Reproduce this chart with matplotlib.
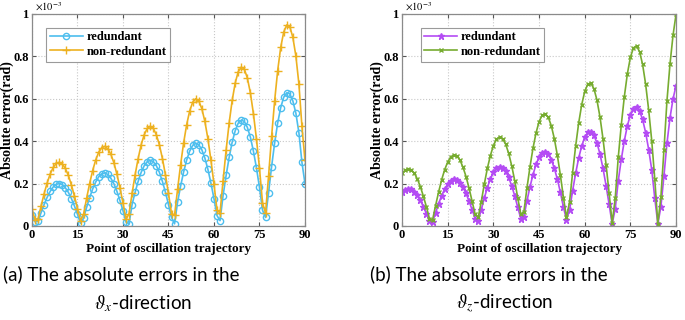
#Plot of absolute errors along the oscillation trajectory (redundant vs non-redundant)
import numpy as np
import matplotlib
matplotlib.use("Agg")
import matplotlib.pyplot as plt

plt.rcParams['mathtext.fontset'] = 'stix'

#points of the trajectory
points = np.arange(0, 91)

#theta_x direction, values in 1e-3 rad
x_redundant = [0.052, 0.020, 0.021, 0.063, 0.101, 0.135, 0.163, 0.184, 0.196, 0.200,
               0.195, 0.180, 0.158, 0.129, 0.094, 0.055, 0.012, 0.036, 0.087, 0.133,
               0.174, 0.207, 0.232, 0.246, 0.250, 0.243, 0.225, 0.199, 0.163, 0.120,
               0.072, 0.018, 0.010, 0.101, 0.159, 0.210, 0.253, 0.284, 0.303, 0.310,
               0.303, 0.284, 0.253, 0.210, 0.159, 0.101, 0.040, 0.010, 0.112, 0.188,
               0.255, 0.311, 0.353, 0.380, 0.390, 0.383, 0.359, 0.320, 0.267, 0.202,
               0.129, 0.049, 0.025, 0.143, 0.238, 0.323, 0.395, 0.449, 0.485, 0.499,
               0.493, 0.465, 0.419, 0.353, 0.274, 0.182, 0.075, 0.040, 0.156, 0.280,
               0.391, 0.485, 0.558, 0.607, 0.628, 0.623, 0.590, 0.532, 0.440, 0.300,
               0.200]
x_non_redundant = [0.078, 0.030, 0.032, 0.094, 0.152, 0.203, 0.245, 0.276, 0.295, 0.300,
                   0.292, 0.271, 0.238, 0.193, 0.141, 0.082, 0.025, 0.054, 0.130, 0.200,
                   0.261, 0.311, 0.348, 0.369, 0.375, 0.364, 0.338, 0.298, 0.244, 0.180,
                   0.108, 0.031, 0.058, 0.153, 0.241, 0.318, 0.383, 0.430, 0.460, 0.470,
                   0.460, 0.430, 0.383, 0.318, 0.241, 0.153, 0.058, 0.050, 0.173, 0.289,
                   0.392, 0.478, 0.543, 0.584, 0.600, 0.589, 0.553, 0.493, 0.411, 0.310,
                   0.198, 0.075, 0.062, 0.214, 0.357, 0.485, 0.592, 0.674, 0.728, 0.749,
                   0.740, 0.698, 0.628, 0.530, 0.411, 0.273, 0.110, 0.060, 0.236, 0.422,
                   0.590, 0.732, 0.842, 0.915, 0.948, 0.940, 0.890, 0.802, 0.670, 0.470,
                   0.310]

#theta_z direction, values in 1e-3 rad
z_redundant = [0.162, 0.170, 0.175, 0.172, 0.161, 0.144, 0.120, 0.090, 0.058, 0.022,
               0.018, 0.063, 0.105, 0.143, 0.174, 0.198, 0.214, 0.220, 0.216, 0.204,
               0.182, 0.153, 0.117, 0.076, 0.035, 0.025, 0.076, 0.131, 0.181, 0.221,
               0.253, 0.272, 0.280, 0.275, 0.258, 0.229, 0.189, 0.142, 0.087, 0.035,
               0.044, 0.117, 0.184, 0.242, 0.290, 0.325, 0.345, 0.350, 0.339, 0.313,
               0.272, 0.220, 0.158, 0.088, 0.030, 0.075, 0.165, 0.248, 0.320, 0.377,
               0.418, 0.441, 0.444, 0.427, 0.392, 0.339, 0.271, 0.190, 0.102, 0.009,
               0.080, 0.213, 0.314, 0.402, 0.473, 0.524, 0.553, 0.559, 0.542, 0.502,
               0.440, 0.360, 0.265, 0.130, 0.010, 0.090, 0.235, 0.390, 0.510, 0.600,
               0.662]
z_non_redundant = [0.248, 0.263, 0.270, 0.265, 0.249, 0.222, 0.185, 0.140, 0.089, 0.034,
                   0.028, 0.096, 0.160, 0.218, 0.266, 0.302, 0.326, 0.335, 0.330, 0.311,
                   0.277, 0.233, 0.178, 0.116, 0.055, 0.040, 0.114, 0.197, 0.271, 0.332,
                   0.379, 0.409, 0.420, 0.412, 0.386, 0.343, 0.284, 0.213, 0.131, 0.055,
                   0.067, 0.177, 0.278, 0.367, 0.439, 0.492, 0.522, 0.529, 0.513, 0.473,
                   0.412, 0.333, 0.239, 0.134, 0.040, 0.113, 0.250, 0.376, 0.485, 0.572,
                   0.635, 0.669, 0.673, 0.648, 0.594, 0.514, 0.410, 0.289, 0.155, 0.014,
                   0.130, 0.323, 0.477, 0.610, 0.718, 0.796, 0.840, 0.849, 0.822, 0.762,
                   0.668, 0.546, 0.402, 0.220, 0.010, 0.135, 0.356, 0.590, 0.764, 0.900,
                   1.000]

x_ticks = [0, 15, 30, 45, 60, 75, 90]
y_ticks = [0, 0.2, 0.4, 0.6, 0.8, 1]
y_tick_labels = ["0", "0.2", "0.4", "0.6", "0.8", "1"]

captions = [("(a) The absolute errors in the", r"$\vartheta_x$-direction"),
            ("(b) The absolute errors in the", r"$\vartheta_z$-direction")]

serif = "Liberation Serif"

fig = plt.figure(figsize=(6.85, 3.2), dpi=100)
ax1 = fig.add_axes([0.0467, 0.294, 0.3985, 0.6625])
ax2 = fig.add_axes([0.587, 0.294, 0.400, 0.6625])

ax1.plot(points, x_redundant, color="#4dbeee", marker="o", markersize=4.5,
         markerfacecolor="none", markeredgewidth=1, linewidth=1.2, label="redundant")
ax1.plot(points, x_non_redundant, color="#edb120", marker="+", markersize=5.5,
         markeredgewidth=1, linewidth=1.2, label="non-redundant")

ax2.plot(points, z_redundant, color="#b44cf4", marker="*", markersize=5,
         linewidth=1.2, label="redundant")
ax2.plot(points, z_non_redundant, color="#77ac30", marker="x", markersize=3.5,
         markeredgewidth=1, linewidth=1.2, label="non-redundant")

for ax, anchor in [(ax1, (0.03, 0.965)), (ax2, (0.045, 0.965))]:
    ax.set_xlim(0, 90)
    ax.set_ylim(0, 1)
    ax.set_xticks(x_ticks)
    ax.set_yticks(y_ticks)
    ax.set_yticklabels(y_tick_labels)
    ax.grid(True, linestyle=":", color="#c8c8c8", linewidth=0.8)
    ax.set_axisbelow(True)
    for s in ax.spines.values():
        s.set_color("#8a8a8a")
        s.set_linewidth(0.9)
    ax.tick_params(direction="in", length=3, top=True, right=True, color="#555555",
                   labelsize=9, pad=2.5)
    for lab in ax.get_xticklabels() + ax.get_yticklabels():
        lab.set_fontfamily(serif)
        lab.set_fontweight("bold")
    ax.set_xlabel("Point of oscillation trajectory", fontfamily=serif,
                  fontweight="bold", fontsize=9.5, labelpad=1)
    ax.set_ylabel("Absolute error(rad)", fontfamily=serif, fontweight="bold",
                  fontsize=10, va="center")
    ax.yaxis.set_label_coords(-0.092, 0.5)
    ax.text(0.01, 1.004, r"$\times10^{-3}$", transform=ax.transAxes, fontsize=7.5,
            ha="left", va="bottom")
    leg = ax.legend(loc="upper left", bbox_to_anchor=anchor, fancybox=False,
                    edgecolor="#9a9a9a", framealpha=1, handlelength=2.6,
                    borderpad=0.3, labelspacing=0.2, handletextpad=0.3,
                    prop={"family": serif, "weight": "bold", "size": 9})
    leg.get_frame().set_linewidth(0.8)

cap_font = ["Lato", "DejaVu Sans"]
fig.text(3 / 685, 1 - 274 / 320, captions[0][0], ha="left", va="center",
         fontsize=13.5, family=cap_font)
fig.text(94 / 685, 1 - 304 / 320, captions[0][1], ha="left", va="center",
         fontsize=13.5, family=cap_font)
fig.text(370 / 685, 1 - 274 / 320, captions[1][0], ha="left", va="center",
         fontsize=13.5, family=cap_font)
fig.text(456 / 685, 1 - 304 / 320, captions[1][1], ha="left", va="center",
         fontsize=13.5, family=cap_font)

fig.savefig("out.png", dpi=100)
